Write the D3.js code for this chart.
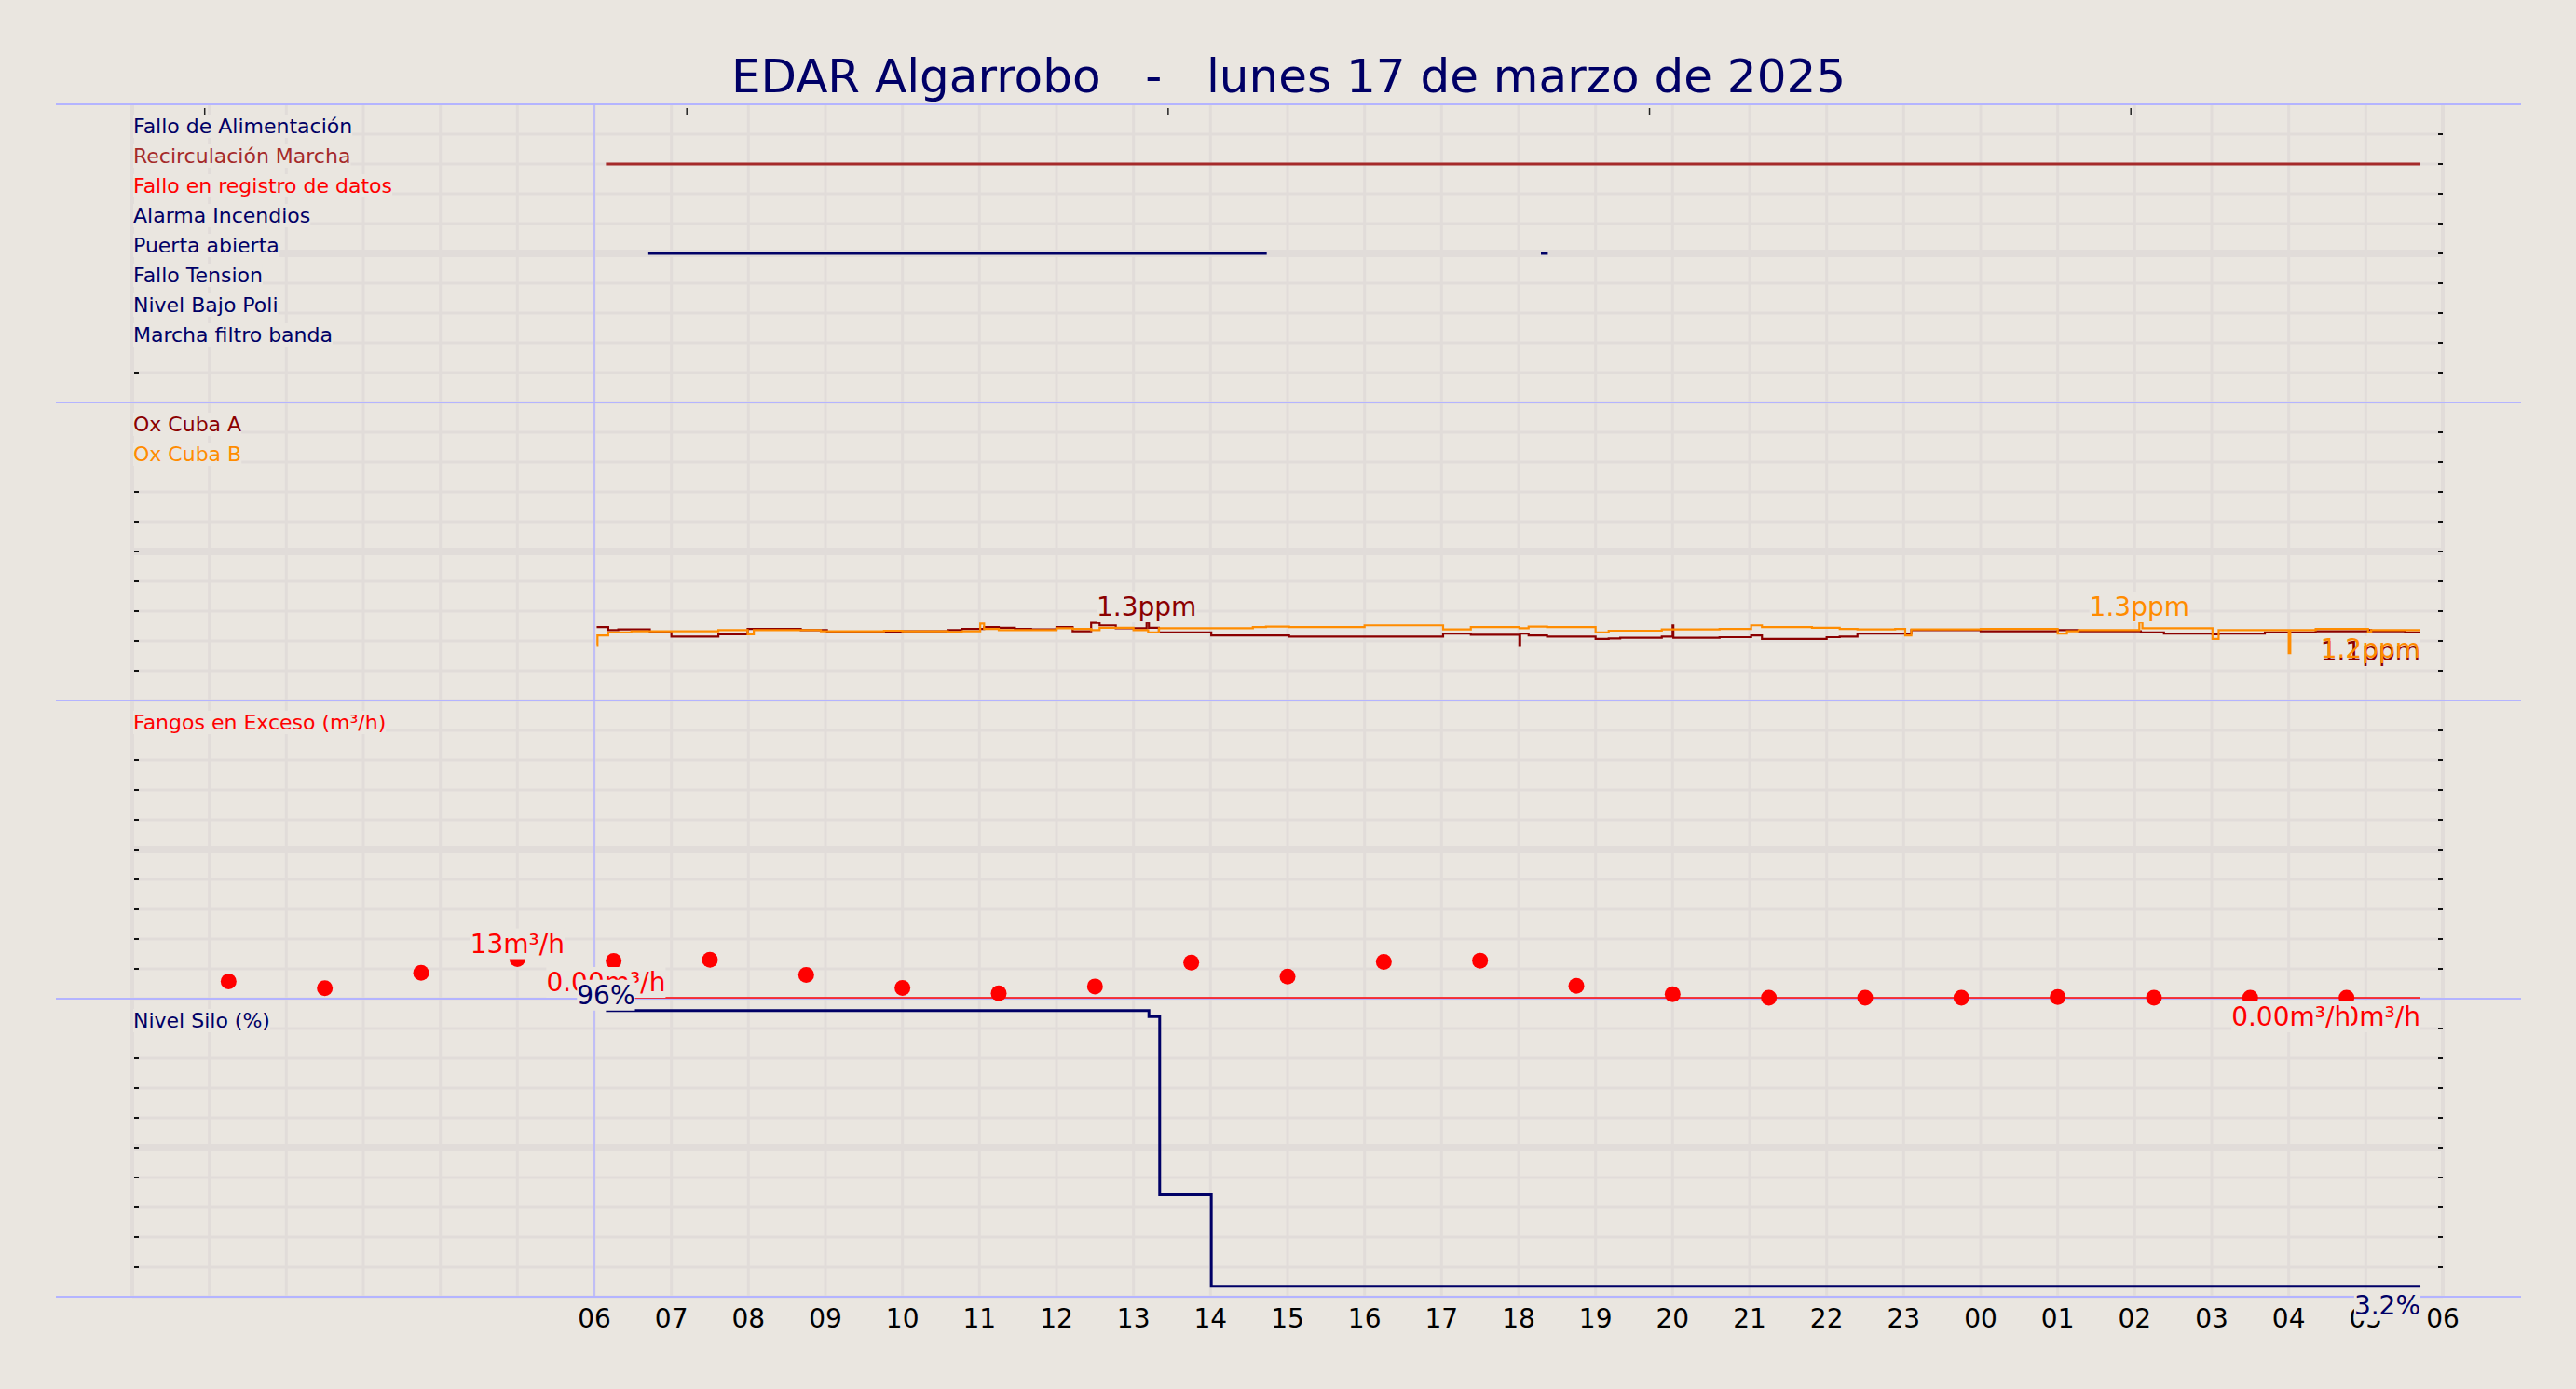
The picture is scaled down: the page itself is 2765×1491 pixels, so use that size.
<!DOCTYPE html>
<html><head><meta charset="utf-8">
<script src="https://cdn.jsdelivr.net/npm/d3@7"></script>
<style>
html,body{margin:0;padding:0;background:#eae6e0;}
svg{display:block;font-family:"DejaVu Sans",sans-serif;}
</style></head>
<body><svg id="c" width="2765" height="1491"></svg>
<script>
// ---------------- DATA ----------------
const titleText = "EDAR Algarrobo   -   lunes 17 de marzo de 2025";
const hourTicks = [6,7,8,9,10,11,12,13,14,15,16,17,18,19,20,21,22,23,24,25,26,27,28,29,30];
const hourLabels = ["06","07","08","09","10","11","12","13","14","15","16","17","18","19","20","21","22","23","00","01","02","03","04","05","06"];
const topTicks = [0.94, 7.2, 13.45, 19.7, 25.95];

const alarmNames = ["Fallo de Alimentación","Recirculación Marcha","Fallo en registro de datos","Alarma Incendios","Puerta abierta","Fallo Tension","Nivel Bajo Poli","Marcha filtro banda"];
const alarmColors = ["#000066","#a52a2a","#ff0000","#000066","#000066","#000066","#000066","#000066"];
// on-intervals (hours from 00:00 of 17/03)
const recirculacionOn = [[6.15, 29.71]];
const puertaOn = [[6.70, 14.73],[18.29, 18.38]];

// Oxygen (ppm), step series [hour, value]
const oxA = [[6.03,1.22],[6.18,1.17],[6.31,1.18],[6.72,1.14],[7.00,1.06],[7.61,1.10],[7.99,1.19],[8.68,1.17],[9.02,1.13],[10.00,1.15],[10.59,1.17],[10.77,1.19],[11.06,1.22],[11.25,1.21],[11.46,1.19],[11.67,1.18],[12.00,1.22],[12.21,1.15],[12.45,1.29],[12.56,1.25],[12.77,1.20],[13.17,1.30],[13.20,1.21],[13.33,1.13],[14.01,1.08],[15.02,1.06],[17.02,1.11],[17.38,1.09],[18.01,0.92],[18.02,1.11],[18.13,1.08],[18.37,1.06],[19.00,1.02],[19.17,1.03],[19.32,1.04],[19.86,1.06],[20.00,1.25],[20.01,1.04],[20.61,1.05],[21.02,1.08],[21.16,1.02],[22.00,1.05],[22.17,1.06],[22.40,1.11],[23.10,1.17],[24.00,1.15],[25.00,1.17],[25.27,1.15],[26.08,1.13],[26.38,1.11],[27.01,1.10],[27.09,1.11],[27.69,1.13],[28.35,1.15],[29.03,1.17],[29.07,1.15],[29.51,1.13],[29.71,1.13]];
const oxB = [[6.03,0.92],[6.04,1.08],[6.18,1.13],[6.48,1.15],[7.61,1.17],[7.99,1.10],[8.07,1.17],[8.94,1.15],[9.76,1.16],[10.00,1.15],[10.59,1.14],[10.77,1.15],[11.01,1.28],[11.06,1.19],[11.25,1.17],[12.00,1.20],[12.21,1.19],[12.45,1.17],[12.56,1.21],[13.00,1.17],[13.19,1.13],[13.33,1.20],[14.55,1.22],[14.72,1.23],[15.02,1.22],[16.00,1.25],[17.02,1.18],[17.38,1.22],[18.01,1.20],[18.13,1.23],[18.37,1.22],[19.00,1.13],[19.17,1.16],[19.86,1.18],[20.61,1.19],[21.02,1.25],[21.16,1.22],[21.81,1.21],[22.17,1.19],[22.40,1.18],[22.89,1.19],[23.02,1.08],[23.10,1.18],[24.00,1.19],[25.00,1.11],[25.12,1.15],[25.27,1.17],[26.06,1.30],[26.10,1.20],[27.01,1.02],[27.09,1.17],[28.00,0.78],[28.02,1.17],[28.35,1.19],[29.03,1.13],[29.07,1.17],[29.71,1.17]];

// Fangos en exceso (m³/h): points and flow line
const fangosHours = [1.25,2.5,3.75,5,6.25,7.5,8.75,10,11.25,12.5,13.75,15,16.25,17.5,18.75,20,21.25,22.5,23.75,25,26.25,27.5,28.75];
const fangosValues = [5.5,3.2,8.4,13.0,12.4,12.8,7.7,3.3,1.5,3.8,11.8,7.1,12.1,12.5,4.0,1.2,0,0,0,0.2,0,0,0];
const fangosLine = [[6.15,0],[29.71,0]];

// Nivel silo (%)
const silo = [[6.15,96],[13.2,94],[13.34,34],[14.01,3.2],[29.71,3.2]];

// value labels: [text, hour, value, panel, position, anchor, color, hasBox]
const valueLabels = [
  ["1.3ppm", 13.17, 1.30, "ox", "above", "middle", "#8b0000", true],
  ["1.3ppm", 26.06, 1.30, "ox", "above", "middle", "#ff8c00", true],
  ["1.1ppm", 29.71, 1.13, "ox", "below", "end", "#8b0000", true],
  ["1.2ppm", 29.71, 1.17, "ox", "below", "end", "#ff8c00", false],
  ["13m³/h", 5, 13.0, "fangos", "above", "middle", "#ff0000", true],
  ["0.00m³/h", 6.15, 0, "fangos", "above", "middle", "#ff0000", true],
  ["0.00m³/h", 29.71, 0, "fangos", "below", "end", "#ff0000", true],
  ["0.00m³/h", 28.03, 0, "fangos", "below", "middle", "#ff0000", true],
  ["96%", 6.15, 96, "silo", "above", "middle", "#000066", true],
  ["3.2%", 29.71, 3.2, "silo", "below", "end", "#000066", true]
];

// ---------------- DRAW ----------------
const BG = "#eae6e0", GRID = "#e1dcd9", SEP = "#b4b4ff", NAVY = "#000066";
const svg = d3.select("#c");
svg.append("rect").attr("width",2765).attr("height",1491).attr("fill",BG);

const x = d3.scaleLinear().domain([0,30]).range([142,2622]);
const panelTop = [112,432,752,1072], PH = 320;
const yOx = d3.scaleLinear().domain([0,5]).range([751,432]);
const yF = d3.scaleLinear().domain([0,100]).range([1071,752]);
const yS = d3.scaleLinear().domain([0,100]).range([1391,1072]);
const yAl = d3.scalePoint().domain(alarmNames).range([144,368]);
const yOf = {ox:yOx, fangos:yF, silo:yS};

const g = svg.append("g");
// vertical grid
g.selectAll(".vg").data(d3.range(0,31)).enter().append("line")
  .attr("x1",d=>x(d)).attr("x2",d=>x(d)).attr("y1",112).attr("y2",1392)
  .attr("stroke",GRID).attr("stroke-width",d=>(d===0||d===30)?4:3);
// horizontal grid + ticks
panelTop.forEach(t=>{
  const ys = d3.scaleLinear().domain([0,10]).range([t,t+PH]);
  g.selectAll(null).data(d3.range(1,11)).enter().append("line")
    .attr("x1",142).attr("x2",2622).attr("y1",d=>ys(d)).attr("y2",d=>ys(d))
    .attr("stroke",GRID).attr("stroke-width",d=>d===5?8:3);
  const tk = d3.range(1,11);
  g.selectAll(null).data(tk).enter().append("line")
    .attr("x1",144).attr("x2",149).attr("y1",d=>ys(d)).attr("y2",d=>ys(d))
    .attr("stroke",d=>d===10?"#b8b4c8":"#111").attr("stroke-width",2);
  g.selectAll(null).data(tk).enter().append("line")
    .attr("x1",2617).attr("x2",2622).attr("y1",d=>ys(d)).attr("y2",d=>ys(d))
    .attr("stroke",d=>d===10?"#b8b4c8":"#111").attr("stroke-width",2);
});
// top small ticks
g.selectAll(".tt").data(topTicks).enter().append("line")
  .attr("x1",d=>x(d)).attr("x2",d=>x(d)).attr("y1",116).attr("y2",123)
  .attr("stroke","#222").attr("stroke-width",1.5);

// separators
[112,432,752,1072,1392].forEach(yv=>{
  g.append("line").attr("x1",60).attr("x2",2706).attr("y1",yv).attr("y2",yv)
   .attr("stroke",SEP).attr("stroke-width",2);
});
g.append("line").attr("x1",x(6)).attr("x2",x(6)).attr("y1",112).attr("y2",1392)
  .attr("stroke",SEP).attr("stroke-width",1.5);

// title
svg.append("text").attr("x",1383).attr("y",99).attr("text-anchor","middle")
  .style("white-space","pre").attr("xml:space","preserve")
  .attr("font-size",50).attr("fill",NAVY).text(titleText);

// x axis labels
svg.selectAll(".xl").data(hourTicks).enter().append("text")
  .attr("x",d=>x(d)).attr("y",1425).attr("text-anchor","middle")
  .attr("font-size",28).attr("fill","#000").text((d,i)=>hourLabels[i]);

// alarm state lines
const states = [[recirculacionOn,"Recirculación Marcha","#a52a2a"],[puertaOn,"Puerta abierta",NAVY]];
states.forEach(([iv,name,col])=>{
  g.selectAll(null).data(iv).enter().append("line")
   .attr("x1",d=>x(d[0])).attr("x2",d=>x(d[1])).attr("y1",yAl(name)).attr("y2",yAl(name))
   .attr("stroke",col).attr("stroke-width",3);
});

// Ox lines
const lineOx = d3.line().x(d=>x(d[0])).y(d=>yOx(d[1])).curve(d3.curveStepAfter);
g.append("path").attr("d",lineOx(oxA)).attr("fill","none").attr("stroke","#8b0000").attr("stroke-width",2.2);
g.append("path").attr("d",lineOx(oxB)).attr("fill","none").attr("stroke","#ff8c00").attr("stroke-width",2.2);

// fangos line and dots
const lineF = d3.line().x(d=>x(d[0])).y(d=>yF(d[1]));
g.append("path").attr("d",lineF(fangosLine)).attr("fill","none").attr("stroke","#ff0000").attr("stroke-width",1.6);
g.selectAll(".dot").data(fangosHours).enter().append("circle")
  .attr("cx",d=>x(d)).attr("cy",(d,i)=>yF(fangosValues[i])).attr("r",8.5).attr("fill","#ff0000");

// silo line
const lineS = d3.line().x(d=>x(d[0])).y(d=>yS(d[1])).curve(d3.curveStepAfter);
g.append("path").attr("d",lineS(silo)).attr("fill","none").attr("stroke",NAVY).attr("stroke-width",3);

// helper: text with background box
function boxText(parent, tx, ty, txt, size, col, anchor, hasBox){
  const grp = parent.append("g");
  const r = grp.append("rect").attr("fill",BG);
  const t = grp.append("text").attr("x",tx).attr("y",ty).attr("text-anchor",anchor)
    .attr("font-size",size).attr("fill",col).text(txt);
  const b = t.node().getBBox();
  if(hasBox) r.attr("x",b.x).attr("y",b.y).attr("width",b.width).attr("height",b.height);
  return grp;
}

// panel names
const lab = svg.append("g");
alarmNames.forEach((n,i)=>boxText(lab,143,yAl(n)-1,n,22,alarmColors[i],"start",true));
boxText(lab,143,463,"Ox Cuba A",22,"#8b0000","start",true);
boxText(lab,143,495,"Ox Cuba B",22,"#ff8c00","start",true);
boxText(lab,143,783,"Fangos en Exceso (m³/h)",22,"#ff0000","start",true);
boxText(lab,143,1103,"Nivel Silo (%)",22,NAVY,"start",true);

// value labels
valueLabels.forEach(([txt,h,v,p,pos,anchor,col,hasBox])=>{
  const py = yOf[p](v);
  const ty = pos==="above" ? py-7 : py+30;
  boxText(lab,x(h),ty,txt,28,col,anchor,hasBox);
});
</script>
</body></html>
